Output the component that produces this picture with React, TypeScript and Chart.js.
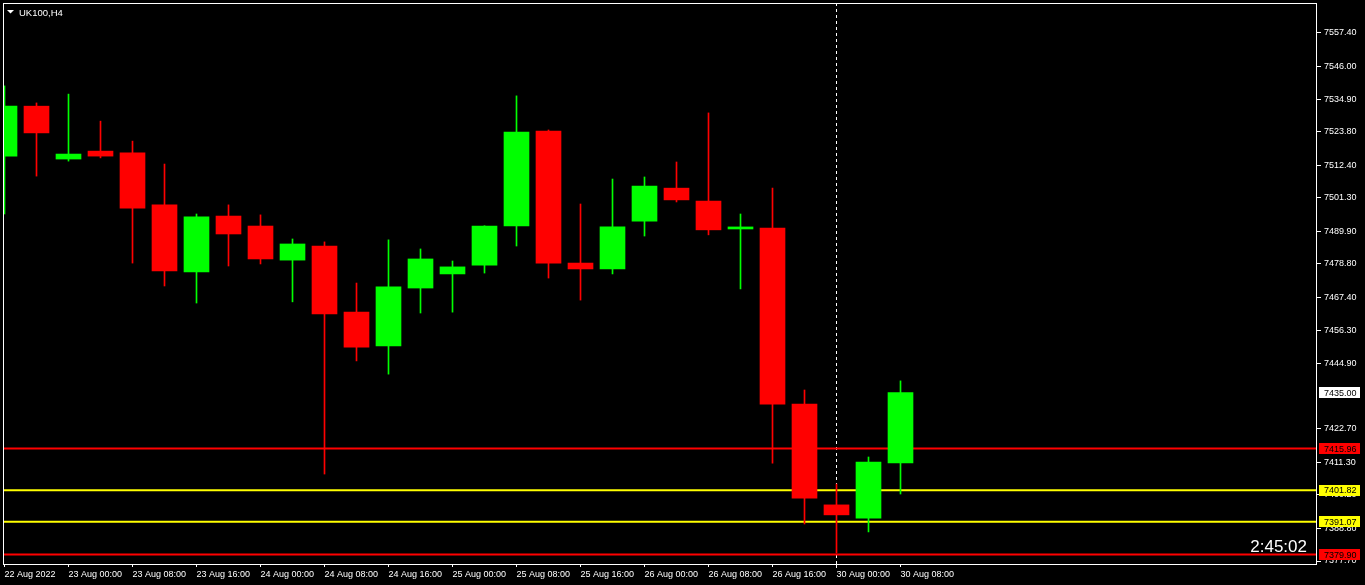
import React, { useEffect, useRef } from "react";
import { Chart, registerables } from "chart.js";

Chart.register(...registerables);

const symbolTitle = "UK100,H4";
const countdownText = "2:45:02";

const opens = [7515.5, 7532.5, 7514.5, 7517.2, 7516.6, 7498.9, 7476.1, 7495.1, 7491.7, 7480.1, 7484.9, 7462.4, 7450.9, 7470.6, 7475.4, 7478.4, 7491.7, 7524.0, 7479.1, 7477.1, 7493.4, 7504.6, 7500.2, 7490.7, 7491.0, 7431.1, 7396.8, 7392.3, 7411.1];
const highs = [7539.4, 7533.6, 7536.6, 7527.4, 7520.6, 7512.8, 7495.8, 7498.9, 7495.5, 7487.3, 7486.3, 7472.3, 7487.0, 7483.9, 7479.8, 7491.8, 7536.0, 7524.4, 7499.2, 7507.7, 7508.4, 7513.5, 7530.2, 7495.8, 7504.6, 7435.9, 7403.9, 7413.1, 7439.0];
const lows = [7495.8, 7508.7, 7513.8, 7514.9, 7479.1, 7471.3, 7465.5, 7478.1, 7478.8, 7465.9, 7407.3, 7445.8, 7441.3, 7462.1, 7462.4, 7475.7, 7484.9, 7474.0, 7466.5, 7475.4, 7488.3, 7499.9, 7488.7, 7470.3, 7411.0, 7390.3, 7380.4, 7387.6, 7400.5];
const closes = [7532.5, 7523.4, 7516.2, 7515.5, 7497.8, 7476.4, 7494.8, 7489.0, 7480.5, 7485.6, 7461.8, 7450.5, 7471.0, 7480.5, 7477.8, 7491.7, 7523.7, 7479.1, 7477.1, 7491.4, 7505.3, 7500.6, 7490.4, 7491.4, 7431.1, 7399.1, 7393.4, 7411.4, 7435.0];

const xTickIndex = [0, 2, 4, 6, 8, 10, 12, 14, 16, 18, 20, 22, 24, 26, 28];
const xTickLabels = [
  "22 Aug 2022", "23 Aug 00:00", "23 Aug 08:00", "23 Aug 16:00", "24 Aug 00:00",
  "24 Aug 08:00", "24 Aug 16:00", "25 Aug 00:00", "25 Aug 08:00", "25 Aug 16:00",
  "26 Aug 00:00", "26 Aug 08:00", "26 Aug 16:00", "30 Aug 00:00", "30 Aug 08:00",
];
const yTickValues = [7557.4, 7546.0, 7534.9, 7523.8, 7512.4, 7501.3, 7489.9, 7478.8, 7467.4, 7456.3, 7444.9, 7422.7, 7411.3, 7400.2, 7388.8, 7377.7];

const levelValues = [7415.96, 7401.82, 7391.07, 7379.9];
const levelColors = ["#FF0000", "#FFFF00", "#FFFF00", "#FF0000"];
const currentPrice = 7435.0;
const separatorIndex = 26;

const X_MIN = -0.046875;
const X_MAX = 41.015625;
const Y_MIN = 7376.68;
const Y_MAX = 7567.61;

const UP = "#00FF00";
const DOWN = "#FF0000";
const FONT = "'Liberation Sans', Arial, sans-serif";

export default function App() {
  const ref = useRef<HTMLCanvasElement | null>(null);

  useEffect(() => {
    document.body.style.margin = "0";
    document.body.style.background = "#000";
    const canvas = ref.current;
    if (!canvas) return;

    const colors = opens.map((o, i) => (closes[i] >= o ? UP : DOWN));

    const overlay = {
      id: "mt4overlay",
      beforeDatasetsDraw(chart: any) {
        const { ctx, chartArea } = chart;
        const xs = chart.scales.x;
        const px = Math.round(xs.getPixelForValue(separatorIndex)) - 0.5;
        ctx.save();
        ctx.strokeStyle = "#FFFFFF";
        ctx.lineWidth = 1;
        ctx.setLineDash([3, 3]);
        ctx.beginPath();
        ctx.moveTo(px, chartArea.top);
        ctx.lineTo(px, chartArea.bottom + 4);
        ctx.stroke();
        ctx.restore();
      },
      afterDraw(chart: any) {
        const { ctx, chartArea } = chart;
        const ys = chart.scales.y;
        ctx.save();
        // frame
        ctx.strokeStyle = "#FFFFFF";
        ctx.lineWidth = 1;
        ctx.strokeRect(
          chartArea.left + 0.5,
          chartArea.top + 0.5,
          chartArea.right - chartArea.left - 1,
          chartArea.bottom - chartArea.top
        );
        // title
        ctx.fillStyle = "#FFFFFF";
        ctx.beginPath();
        ctx.moveTo(7, 10);
        ctx.lineTo(14, 10);
        ctx.lineTo(10.5, 13.5);
        ctx.closePath();
        ctx.fill();
        ctx.font = `9.5px ${FONT}`;
        ctx.textAlign = "left";
        ctx.textBaseline = "alphabetic";
        ctx.fillText(symbolTitle, 19, 15.5);
        // countdown
        ctx.font = `17px ${FONT}`;
        ctx.textAlign = "right";
        ctx.fillText(countdownText, 1307, 551.5);
        // price labels
        const boxes: [number, string][] = [
          [currentPrice, "#FFFFFF"],
          ...levelValues.map((v, i) => [v, levelColors[i]] as [number, string]),
        ];
        ctx.font = `9px ${FONT}`;
        ctx.textAlign = "left";
        ctx.textBaseline = "middle";
        boxes.forEach(([v, bg]) => {
          const y = ys.getPixelForValue(v);
          ctx.fillStyle = bg;
          ctx.fillRect(chartArea.right + 2, Math.round(y - 5.5), 41, 11);
          ctx.fillStyle = "#000000";
          ctx.fillText(v.toFixed(2), chartArea.right + 7, y + 0.5);
        });
        ctx.restore();
      },
    };

    const chart = new Chart(canvas, {
      type: "bar",
      data: {
        datasets: [
          ...levelValues.map((v, i) => ({
            type: "line" as const,
            data: [
              { x: X_MIN, y: v },
              { x: X_MAX, y: v },
            ],
            borderColor: levelColors[i],
            borderWidth: 2,
            pointRadius: 0,
            order: 5,
          })),
          {
            type: "bar" as const,
            data: opens.map((_, i) => ({ x: i, y: [lows[i], highs[i]] })),
            backgroundColor: colors,
            barThickness: 1,
            grouped: false,
            borderWidth: 0,
            order: 2,
          } as any,
          {
            type: "bar" as const,
            data: opens.map((o, i) => ({ x: i, y: [o, closes[i]] })),
            backgroundColor: colors,
            barThickness: 25,
            minBarLength: 1,
            grouped: false,
            borderWidth: 0,
            order: 1,
          } as any,
        ],
      },
      options: {
        responsive: false,
        animation: false,
        events: [],
        layout: { padding: { left: 3, top: 3, right: 0, bottom: 0 } },
        plugins: {
          legend: { display: false },
          tooltip: { enabled: false },
        },
        scales: {
          x: {
            type: "linear",
            min: X_MIN,
            max: X_MAX,
            offset: false,
            afterBuildTicks: (s: any) => {
              s.ticks = xTickIndex.map((v) => ({ value: v }));
            },
            afterFit: (s: any) => {
              s.height = 21;
              s.paddingLeft = 0;
              s.paddingRight = 0;
              s.paddingTop = 0;
              s.paddingBottom = 0;
            },
            ticks: {
              autoSkip: false,
              maxRotation: 0,
              minRotation: 0,
              align: "start",
              color: "#FFFFFF",
              padding: 2,
              font: { family: FONT, size: 9 },
              callback: (v: any) => xTickLabels[xTickIndex.indexOf(Number(v))] ?? "",
            },
            grid: {
              offset: false,
              drawOnChartArea: false,
              drawTicks: true,
              tickLength: 3,
              color: "#FFFFFF",
            },
            border: { display: false },
          },
          y: {
            type: "linear",
            position: "right",
            min: Y_MIN,
            max: Y_MAX,
            beginAtZero: false,
            afterBuildTicks: (s: any) => {
              s.ticks = yTickValues.map((v) => ({ value: v }));
            },
            afterFit: (s: any) => {
              s.width = 48;
              s.paddingLeft = 0;
              s.paddingRight = 0;
              s.paddingTop = 0;
              s.paddingBottom = 0;
            },
            ticks: {
              color: "#FFFFFF",
              padding: 3,
              font: { family: FONT, size: 9 },
              callback: (v: any) => Number(v).toFixed(2),
            },
            grid: {
              drawOnChartArea: false,
              drawTicks: true,
              tickLength: 4,
              color: "#FFFFFF",
            },
            border: { display: false },
          },
        },
      } as any,
      plugins: [overlay],
    });

    return () => chart.destroy();
  }, []);

  return (
    <div style={{ position: "fixed", left: 0, top: 0, width: 1365, height: 585, background: "#000" }}>
      <canvas ref={ref} width={1365} height={585} style={{ display: "block", width: 1365, height: 585 }} />
    </div>
  );
}
